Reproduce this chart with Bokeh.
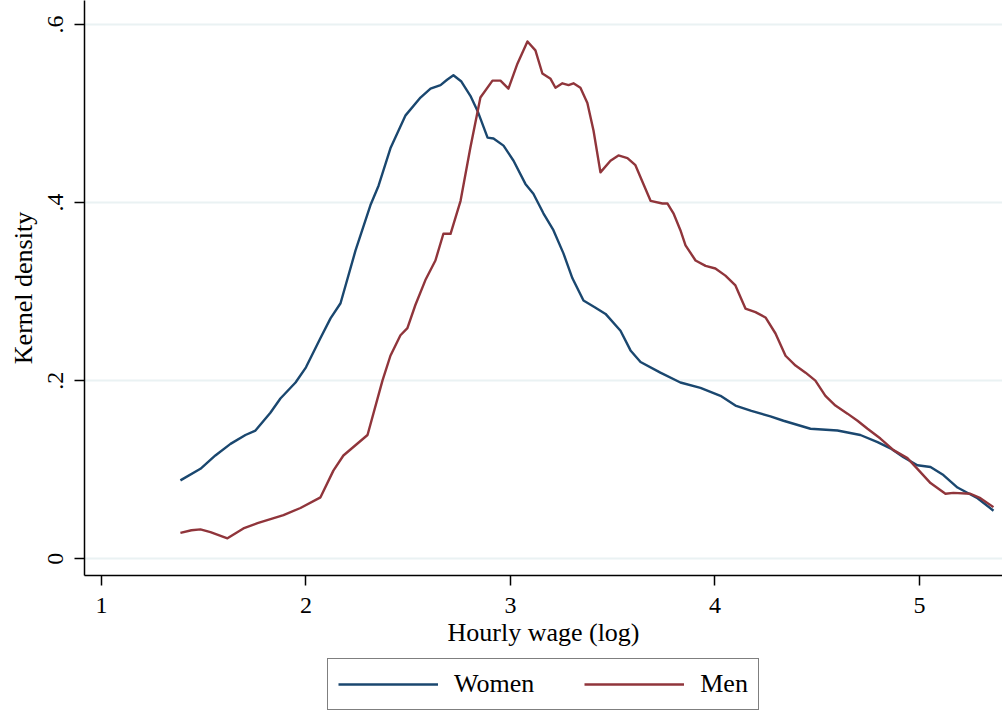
from bokeh.plotting import figure
from bokeh.models import Legend, LegendItem, Range1d, FixedTicker
from bokeh.layouts import column
from bokeh.embed import file_html
from bokeh.resources import INLINE

# Women (blue) kernel density of log hourly wage
women_x = [1.386, 1.484, 1.557, 1.631, 1.704, 1.753, 1.826, 1.875, 1.949, 2.000, 2.071, 2.120, 2.169,
           2.242, 2.315, 2.355, 2.413, 2.487, 2.560, 2.609, 2.658, 2.690, 2.721, 2.760, 2.804, 2.839,
           2.888, 2.917, 2.966, 3.015, 3.073, 3.112, 3.161, 3.210, 3.259, 3.303, 3.357, 3.416, 3.465,
           3.538, 3.587, 3.636, 3.733, 3.831, 3.929, 4.027, 4.100, 4.178, 4.271, 4.335, 4.467, 4.599,
           4.711, 4.795, 4.858, 4.922, 4.990, 5.054, 5.117, 5.186, 5.284, 5.362]
women_y = [0.088, 0.101, 0.116, 0.129, 0.139, 0.144, 0.164, 0.180, 0.198, 0.215, 0.248, 0.270, 0.287,
           0.346, 0.397, 0.419, 0.461, 0.498, 0.518, 0.528, 0.532, 0.538, 0.543, 0.536, 0.520, 0.503,
           0.473, 0.472, 0.464, 0.447, 0.421, 0.410, 0.388, 0.369, 0.343, 0.315, 0.290, 0.282, 0.275,
           0.256, 0.234, 0.221, 0.209, 0.198, 0.192, 0.183, 0.172, 0.166, 0.160, 0.155, 0.146, 0.144,
           0.139, 0.131, 0.124, 0.114, 0.105, 0.103, 0.094, 0.080, 0.068, 0.054]

# Men (red)
men_x = [1.386, 1.440, 1.484, 1.533, 1.616, 1.694, 1.763, 1.890, 1.973, 2.071, 2.134, 2.183, 2.301,
         2.374, 2.413, 2.462, 2.496, 2.535, 2.584, 2.633, 2.672, 2.707, 2.756, 2.804, 2.853, 2.912,
         2.951, 2.990, 3.034, 3.083, 3.122, 3.156, 3.196, 3.220, 3.254, 3.284, 3.308, 3.342, 3.376,
         3.406, 3.440, 3.489, 3.528, 3.572, 3.611, 3.650, 3.685, 3.743, 3.768, 3.797, 3.831, 3.856,
         3.905, 3.954, 4.002, 4.051, 4.100, 4.149, 4.198, 4.247, 4.296, 4.345, 4.394, 4.443, 4.491,
         4.540, 4.589, 4.648, 4.697, 4.746, 4.809, 4.873, 4.941, 4.990, 5.054, 5.127, 5.166, 5.249,
         5.298, 5.362]
men_y = [0.029, 0.032, 0.033, 0.030, 0.023, 0.034, 0.040, 0.049, 0.057, 0.069, 0.099, 0.116, 0.139,
         0.200, 0.228, 0.251, 0.259, 0.285, 0.313, 0.335, 0.365, 0.365, 0.402, 0.462, 0.518, 0.537,
         0.537, 0.528, 0.556, 0.581, 0.571, 0.545, 0.539, 0.529, 0.534, 0.532, 0.534, 0.529, 0.512,
         0.481, 0.434, 0.447, 0.453, 0.450, 0.442, 0.421, 0.402, 0.399, 0.399, 0.388, 0.369, 0.352,
         0.335, 0.329, 0.326, 0.318, 0.307, 0.281, 0.277, 0.271, 0.253, 0.228, 0.217, 0.209, 0.200,
         0.183, 0.172, 0.163, 0.155, 0.146, 0.135, 0.122, 0.113, 0.101, 0.085, 0.073, 0.074, 0.073,
         0.068, 0.058]

x_ticks = [1, 2, 3, 4, 5]
y_ticks = [0, 0.2, 0.4, 0.6]
y_tick_labels = {0: "0", 0.2: ".2", 0.4: ".4", 0.6: ".6"}
series_labels = ["Women", "Men"]

FONT = "Liberation Serif"
BLUE = "#1a476f"
RED = "#90353b"

p = figure(width=1002, height=652, frame_width=918, frame_height=575,
           output_backend="svg", toolbar_location=None,
           x_range=Range1d(0.917, 5.406), y_range=Range1d(-0.0188, 0.627),
           min_border_left=84, min_border_right=0, min_border_top=0, min_border_bottom=0)
p.outline_line_color = None
p.background_fill_color = "white"
p.border_fill_color = "white"

p.line(women_x, women_y, line_color=BLUE, line_width=2.4, line_join="round")
p.line(men_x, men_y, line_color=RED, line_width=2.4, line_join="round")

p.xgrid.visible = False
p.ygrid.ticker = FixedTicker(ticks=y_ticks)
p.ygrid.grid_line_color = "#eaf2f3"
p.ygrid.grid_line_width = 2

xa = p.xaxis[0]
xa.ticker = FixedTicker(ticks=x_ticks)
xa.axis_label = "Hourly wage (log)"
ya = p.yaxis[0]
ya.ticker = FixedTicker(ticks=y_ticks)
ya.major_label_overrides = y_tick_labels
ya.axis_label = "Kernel density"
ya.major_label_orientation = "vertical"

for ax in (xa, ya):
    ax.axis_line_color = "black"
    ax.axis_line_width = 1.5
    ax.major_tick_line_color = "black"
    ax.major_tick_line_width = 1.5
    ax.major_tick_out = 10
    ax.major_tick_in = 0
    ax.minor_tick_out = 0
    ax.minor_tick_in = 0
    ax.major_label_text_font = FONT
    ax.major_label_text_font_size = "24px"
    ax.major_label_text_color = "black"
    ax.axis_label_text_font = FONT
    ax.axis_label_text_font_size = "26px"
    ax.axis_label_text_font_style = "normal"
    ax.axis_label_text_color = "black"
xa.major_label_standoff = 12
xa.axis_label_standoff = 2
ya.major_label_standoff = 11
ya.axis_label_standoff = 8

# Legend strip below the plot (same series, drawn outside its visible range)
lg = figure(width=1002, height=63, output_backend="svg", toolbar_location=None,
            x_range=Range1d(100, 101), y_range=Range1d(100, 101),
            x_axis_type=None, y_axis_type=None,
            min_border_left=0, min_border_right=0, min_border_top=0, min_border_bottom=0)
lg.outline_line_color = None
lg.background_fill_color = "white"
lg.border_fill_color = "white"
lw = lg.line(women_x, women_y, line_color=BLUE, line_width=2.4)
lm = lg.line(men_x, men_y, line_color=RED, line_width=2.4)

legend = Legend(items=[LegendItem(label=series_labels[0], renderers=[lw]),
                       LegendItem(label=series_labels[1], renderers=[lm])],
                orientation="horizontal", location=(243, 2),
                glyph_width=100, glyph_height=20, label_standoff=16, spacing=50,
                padding=10, margin=0,
                label_text_font=FONT, label_text_font_size="26px", label_text_color="black",
                border_line_color="black", border_line_width=1.5,
                background_fill_color="white")
lg.add_layout(legend, "center")

layout = column(p, lg, spacing=0)
open("out.html", "w").write(file_html(layout, INLINE))
